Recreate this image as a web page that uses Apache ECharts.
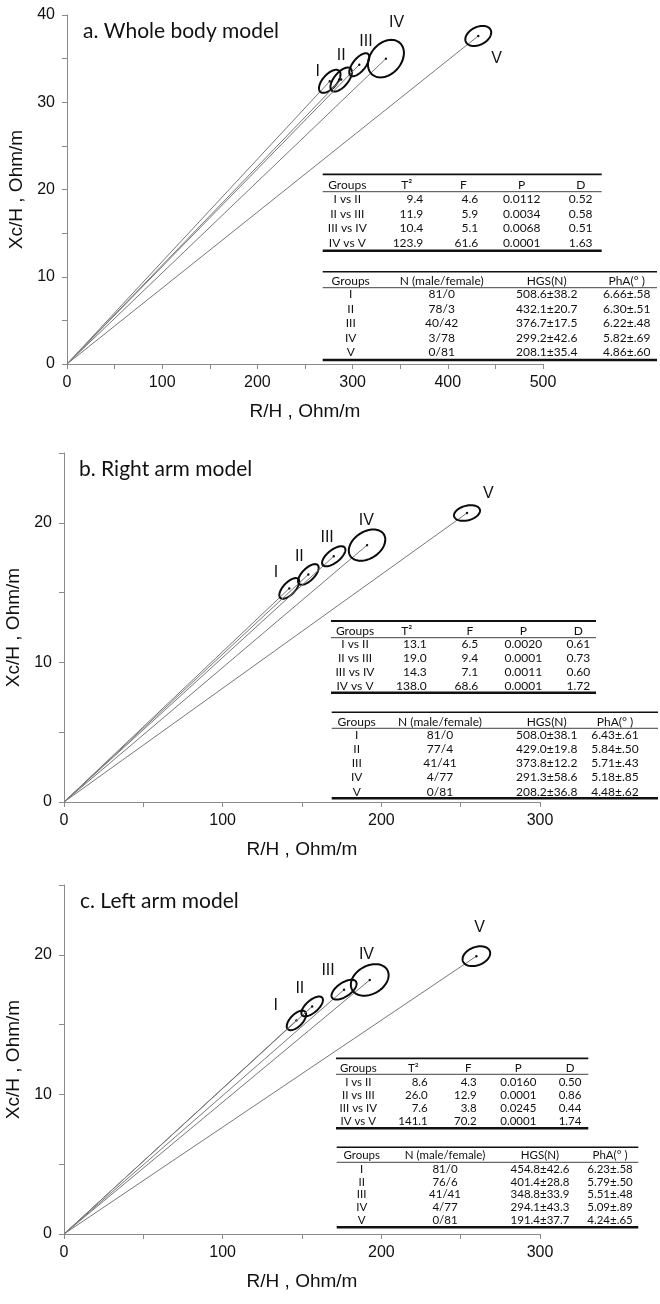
<!DOCTYPE html>
<html><head><meta charset="utf-8">
<script src="https://cdn.jsdelivr.net/npm/echarts@6/dist/echarts.min.js"></script>
<style>html,body{margin:0;padding:0;background:#fff}#c{width:660px;height:1304px}</style>
</head><body><div id="c"></div><script>
// ---------- DATA ----------
const groups = ['I', 'II', 'III', 'IV', 'V'];
const pairs = ['I vs II', 'II vs III', 'III vs IV', 'IV vs V'];

// a. Whole body model : mean vectors (R/H, Xc/H) and ellipse spread
const wholeR = [276, 288, 307, 335, 432];
const wholeXc = [32.4, 32.6, 34.3, 35.0, 37.6];
const wholeSdR = [11.3, 11.3, 10.5, 18.9, 13.6];
const wholeSdXc = [1.32, 1.38, 1.32, 2.15, 1.15];
const wholeRho = [0.60, 0.62, 0.65, 0.30, 0.34];
const wholeT2 = [9.4, 11.9, 10.4, 123.9];
const wholeF = [4.6, 5.9, 5.1, 61.6];
const wholeP = [0.0112, 0.0034, 0.0068, 0.0001];
const wholeD = [0.52, 0.58, 0.51, 1.63];
const wholeMale = [81, 78, 40, 3, 0];
const wholeFemale = [0, 3, 42, 78, 81];
const wholeHgsMean = [508.6, 432.1, 376.7, 299.2, 208.1];
const wholeHgsSd = [38.2, 20.7, 17.5, 42.6, 35.4];
const wholePhaMean = [6.66, 6.30, 6.22, 5.82, 4.86];
const wholePhaSd = [0.58, 0.51, 0.48, 0.69, 0.60];

// b. Right arm model
const rightR = [142, 154, 170, 191, 254];
const rightXc = [15.3, 16.3, 17.6, 18.4, 20.7];
const rightSdR = [6.3, 6.5, 7.35, 11.5, 8.2];
const rightSdXc = [0.74, 0.74, 0.72, 1.12, 0.56];
const rightRho = [0.65, 0.65, 0.65, 0.35, 0.30];
const rightT2 = [13.1, 19.0, 14.3, 138.0];
const rightF = [6.5, 9.4, 7.1, 68.6];
const rightP = [0.0020, 0.0001, 0.0011, 0.0001];
const rightD = [0.61, 0.73, 0.60, 1.72];
const rightMale = [81, 77, 41, 4, 0];
const rightFemale = [0, 4, 41, 77, 81];
const rightHgsMean = [508.0, 429.0, 373.8, 291.3, 208.2];
const rightHgsSd = [38.1, 19.8, 12.2, 58.6, 36.8];
const rightPhaMean = [6.43, 5.84, 5.71, 5.18, 4.48];
const rightPhaSd = [0.61, 0.50, 0.43, 0.85, 0.62];

// c. Left arm model
const leftR = [146.5, 156.4, 176.5, 192.7, 259.9];
const leftXc = [15.3, 16.3, 17.5, 18.2, 19.9];
const leftSdR = [6.1, 6.8, 7.9, 11.9, 8.7];
const leftSdXc = [0.70, 0.71, 0.71, 1.13, 0.71];
const leftRho = [0.60, 0.65, 0.60, 0.30, 0.30];
const leftT2 = [8.6, 26.0, 7.6, 141.1];
const leftF = [4.3, 12.9, 3.8, 70.2];
const leftP = [0.0160, 0.0001, 0.0245, 0.0001];
const leftD = [0.50, 0.86, 0.44, 1.74];
const leftMale = [81, 76, 41, 4, 0];
const leftFemale = [0, 6, 41, 77, 81];
const leftHgsMean = [454.8, 401.4, 348.8, 294.1, 191.4];
const leftHgsSd = [42.6, 28.8, 33.9, 43.3, 37.7];
const leftPhaMean = [6.23, 5.79, 5.51, 5.09, 4.24];
const leftPhaSd = [0.58, 0.50, 0.48, 0.89, 0.65];

const titles = ['a. Whole body model', 'b. Right arm model', 'c. Left arm model'];
const xMax = [500, 300, 300];
const yMax = [40, 25, 25];

// ---------- LAYOUT / STYLE ----------
const grids = [
  {left: 67, top: 15, width: 476, height: 349},
  {left: 64, top: 453, width: 476, height: 349},
  {left: 64, top: 885, width: 476, height: 349}
];
const labelOffsets = [
  [[-12, -10], [0, -23.6], [6.7, -23.6], [10.7, -35.7], [18.4, 22.6]],
  [[-13.3, -16], [-9, -18.3], [-6.6, -18.3], [-0.7, -24.3], [21.3, -19.3]],
  [[-20.7, -15], [-12.3, -17.4], [-16, -19], [-3.3, -25.7], [3.3, -28.3]]
];
const titlePos = [[83, 31], [79, 469], [80, 901]];
const tableLayouts = [
  {fs: 12,
   t1: {x0: 322.7, x1: 601.7, top: 174.3, thin: 191.7, bottom: 250.7, hy: 185, ry: 199.3, rs: 14.5,
        cG: 347.3, hT: 406.7, rT: 423.3, hF: 463.3, rF: 478.3, cP: 521.7, cD: 580.7},
   t2: {x0: 322.7, x1: 657, top: 271.7, thin: 287.7, bottom: 360, hy: 280.7, ry: 294.3, rs: 14.5,
        cG: 350.7, cN: 441.7, cH: 546.7, cA: 626.7}},
  {fs: 12,
   t1: {x0: 331, x1: 596, top: 621, thin: 637.7, bottom: 692.7, hy: 630.7, ry: 644.3, rs: 14,
        cG: 355, hT: 406.7, rT: 426.7, hF: 470, rF: 478.3, cP: 523.3, cD: 578.3},
   t2: {x0: 331.7, x1: 658, top: 712.3, thin: 728.3, bottom: 798.3, hy: 721.7, ry: 735, rs: 14.2,
        cG: 356.7, cN: 440, cH: 546.7, cA: 615}},
  {fs: 11.5,
   t1: {x0: 336, x1: 588.3, top: 1058.3, thin: 1074.3, bottom: 1128.3, hy: 1068.3, ry: 1082.3, rs: 12.9,
        cG: 358.3, hT: 413.3, rT: 427.7, hF: 468.3, rF: 476.7, cP: 518.3, cD: 570},
   t2: {x0: 336.7, x1: 638.3, top: 1147.3, thin: 1162.3, bottom: 1227.3, hy: 1155.7, ry: 1169, rs: 12.8,
        cG: 361.7, cN: 445, cH: 540, cA: 610}}
];

const AX_FONT = '"Liberation Sans", Arial, sans-serif';
const TXT = '#111';
const AX_COL = '#8a8a8a';

const panels = [
  {R: wholeR, Xc: wholeXc, sdR: wholeSdR, sdXc: wholeSdXc, rho: wholeRho,
   T2: wholeT2, F: wholeF, P: wholeP, D: wholeD, male: wholeMale, female: wholeFemale,
   hm: wholeHgsMean, hs: wholeHgsSd, pm: wholePhaMean, ps: wholePhaSd},
  {R: rightR, Xc: rightXc, sdR: rightSdR, sdXc: rightSdXc, rho: rightRho,
   T2: rightT2, F: rightF, P: rightP, D: rightD, male: rightMale, female: rightFemale,
   hm: rightHgsMean, hs: rightHgsSd, pm: rightPhaMean, ps: rightPhaSd},
  {R: leftR, Xc: leftXc, sdR: leftSdR, sdXc: leftSdXc, rho: leftRho,
   T2: leftT2, F: leftF, P: leftP, D: leftD, male: leftMale, female: leftFemale,
   hm: leftHgsMean, hs: leftHgsSd, pm: leftPhaMean, ps: leftPhaSd}
];

// ---------- BUILD ----------
function makeRender(pi) {
  return function (params, api) {
    const cx = api.value(0), cy = api.value(1), sx = api.value(2), sy = api.value(3), rho = api.value(4);
    const idx = params.dataIndex;
    const o = api.coord([0, 0]);
    const c = api.coord([cx, cy]);
    const phi = Math.acos(rho);
    const pts = [];
    for (let i = 0; i < 90; i++) {
      const t = i / 90 * 2 * Math.PI;
      pts.push(api.coord([cx + sx * Math.cos(t), cy + sy * Math.cos(t - phi)]));
    }
    const off = labelOffsets[pi][idx];
    return {
      type: 'group',
      children: [
        {type: 'line', shape: {x1: o[0], y1: o[1], x2: c[0], y2: c[1]}, style: {stroke: '#777', lineWidth: 1}},
        {type: 'polygon', shape: {points: pts}, style: {fill: 'none', stroke: '#0a0a0a', lineWidth: 2}},
        {type: 'circle', shape: {cx: c[0], cy: c[1], r: 1.2}, style: {fill: '#111'}},
        {type: 'text', x: c[0] + off[0], y: c[1] + off[1],
         style: {text: groups[idx], font: '16px ' + AX_FONT, fill: TXT,
                 align: 'center', textAlign: 'center', verticalAlign: 'middle', textVerticalAlign: 'middle'}}
      ]
    };
  };
}

function tableGraphics(L, d) {
  const els = [];
  const font = L.fs + 'px Lato';
  const txt = (x, y, s, align) => els.push({type: 'text', x: x, y: y, silent: true,
    style: {text: s, font: font, fill: TXT, align: align, textAlign: align, verticalAlign: 'middle', textVerticalAlign: 'middle'}});
  const hl = (x1, x2, y, w) => els.push({type: 'line', silent: true,
    shape: {x1: x1, y1: y, x2: x2, y2: y}, style: {stroke: '#111', lineWidth: w}});
  const a = L.t1, b = L.t2;
  hl(a.x0, a.x1, a.top, 1.8); hl(a.x0, a.x1, a.thin, 0.8); hl(a.x0, a.x1, a.bottom, 2.6);
  txt(a.cG, a.hy, 'Groups', 'center'); txt(a.hT, a.hy, 'T²', 'center'); txt(a.hF, a.hy, 'F', 'center');
  txt(a.cP, a.hy, 'P', 'center'); txt(a.cD, a.hy, 'D', 'center');
  pairs.forEach((p, i) => {
    const y = a.ry + i * a.rs;
    txt(a.cG, y, p, 'center');
    txt(a.rT, y, d.T2[i].toFixed(1), 'right');
    txt(a.rF, y, d.F[i].toFixed(1), 'right');
    txt(a.cP, y, d.P[i].toFixed(4), 'center');
    txt(a.cD, y, d.D[i].toFixed(2), 'center');
  });
  hl(b.x0, b.x1, b.top, 1.5); hl(b.x0, b.x1, b.thin, 0.8); hl(b.x0, b.x1, b.bottom, 2.6);
  txt(b.cG, b.hy, 'Groups', 'center'); txt(b.cN, b.hy, 'N (male/female)', 'center');
  txt(b.cH, b.hy, 'HGS(N)', 'center'); txt(b.cA, b.hy, 'PhA(° )', 'center');
  groups.forEach((g, i) => {
    const y = b.ry + i * b.rs;
    txt(b.cG, y, g, 'center');
    txt(b.cN, y, d.male[i] + '/' + d.female[i], 'center');
    txt(b.cH, y, d.hm[i].toFixed(1) + '±' + d.hs[i].toFixed(1), 'center');
    txt(b.cA, y, d.pm[i].toFixed(2) + '±' + d.ps[i].toFixed(2).slice(1), 'center');
  });
  return els;
}

const xAxes = [], yAxes = [], series = [], graphics = [];
panels.forEach((d, pi) => {
  xAxes.push({
    type: 'value', gridIndex: pi, min: 0, max: xMax[pi], interval: 50,
    name: 'R/H , Ohm/m', nameLocation: 'middle', nameGap: 38,
    nameTextStyle: {fontFamily: AX_FONT, fontSize: 19, color: TXT},
    axisLine: {show: true, onZero: false, lineStyle: {color: AX_COL, width: 1}},
    axisTick: {show: true, length: 5, inside: false, lineStyle: {color: AX_COL}},
    axisLabel: {fontFamily: AX_FONT, fontSize: 16, color: TXT, margin: 11,
                formatter: v => (v % 100 === 0 ? String(v) : '')},
    splitLine: {show: false}
  });
  yAxes.push({
    type: 'value', gridIndex: pi, min: 0, max: yMax[pi], interval: 5,
    name: 'Xc/H , Ohm/m', nameLocation: 'middle', nameGap: 38,
    nameTextStyle: {fontFamily: AX_FONT, fontSize: 19, color: TXT},
    axisLine: {show: true, onZero: false, lineStyle: {color: AX_COL, width: 1}},
    axisTick: {show: true, length: 5, inside: false, lineStyle: {color: AX_COL}},
    axisLabel: {fontFamily: AX_FONT, fontSize: 16, color: TXT, margin: 12,
                formatter: v => (v % 10 === 0 ? String(v) : '')},
    splitLine: {show: false}
  });
  series.push({
    type: 'custom', xAxisIndex: pi, yAxisIndex: pi, clip: false, silent: true,
    renderItem: makeRender(pi),
    encode: {x: 0, y: 1},
    data: groups.map((g, i) => [d.R[i], d.Xc[i], d.sdR[i], d.sdXc[i], d.rho[i]])
  });
  graphics.push({type: 'text', x: titlePos[pi][0], y: titlePos[pi][1], silent: true,
    style: {text: titles[pi], font: '21px Lato', fill: TXT, align: 'left', textAlign: 'left',
            verticalAlign: 'middle', textVerticalAlign: 'middle'}});
  tableGraphics(tableLayouts[pi], d).forEach(e => graphics.push(e));
});

const chart = echarts.init(document.getElementById('c'), null, {renderer: 'canvas'});
chart.setOption({
  animation: false,
  backgroundColor: '#fff',
  grid: grids.map(g => Object.assign({containLabel: false, outerBoundsMode: 'none'}, g)),
  xAxis: xAxes,
  yAxis: yAxes,
  series: series,
  graphic: {elements: graphics}
});
</script></body></html>
